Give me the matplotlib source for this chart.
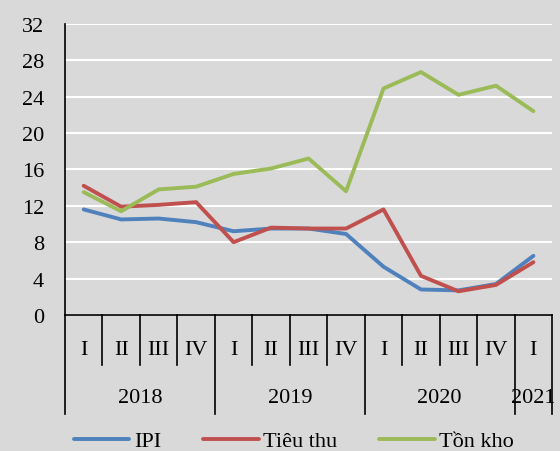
import matplotlib
matplotlib.use("Agg")
from matplotlib import pyplot as plt
from matplotlib.transforms import blended_transform_factory

quarters = ["I", "II", "III", "IV", "I", "II", "III", "IV", "I", "II", "III", "IV", "I"]
years = ["2018", "2019", "2020", "2021"]
yearCenters = [1.5, 5.5, 9.5, 12]
yearEdges = [-0.5, 3.5, 7.5, 11.5, 12.5]

ipi = [11.6, 10.5, 10.6, 10.2, 9.2, 9.5, 9.5, 8.9, 5.3, 2.8, 2.7, 3.4, 6.5]
tieuThu = [14.2, 11.9, 12.1, 12.4, 8.0, 9.6, 9.5, 9.5, 11.6, 4.3, 2.6, 3.3, 5.8]
tonKho = [13.5, 11.4, 13.8, 14.1, 15.5, 16.1, 17.2, 13.6, 24.9, 26.7, 24.2, 25.2, 22.4]

bg = "#d9d9d9"
fs = 16
plt.rcParams["font.family"] = ["Liberation Serif", "DejaVu Serif"]

fig = plt.figure(figsize=(5.6, 4.52), dpi=100, facecolor=bg)
ax = fig.add_axes([0.116, 0.301, 0.870, 0.644], facecolor=bg)

x = list(range(len(quarters)))
ax.plot(x, ipi, color="#4f81bd", lw=2.8, label="IPI", solid_capstyle="round")
ax.plot(x, tieuThu, color="#c0504d", lw=2.8, label="Tiêu thu", solid_capstyle="round")
ax.plot(x, tonKho, color="#9bbb59", lw=2.8, label="Tồn kho", solid_capstyle="round")

ax.set_xlim(-0.5, 12.5)
ax.set_ylim(0, 32)
ax.set_yticks(range(0, 33, 4))
ax.tick_params(axis="y", length=0, pad=15, labelsize=fs)
ax.set_xticks([])
ax.yaxis.grid(True, color="white", lw=1.5)
ax.set_axisbelow(True)
for s in ["top", "right"]:
    ax.spines[s].set_visible(False)
ax.spines["left"].set_visible(False)
ax.spines["bottom"].set_color("black")
ax.spines["bottom"].set_linewidth(1.2)

# multi-level category axis
tr = blended_transform_factory(ax.transData, ax.transAxes)
ax.plot([-0.5, -0.5], [1, 0], color="black", lw=1.2, transform=tr, clip_on=False)
for k in range(len(quarters) + 1):
    e = k - 0.5
    bottom = -0.340 if e in yearEdges else -0.172
    ax.plot([e, e], [0, bottom], color="black", lw=1.2, transform=tr, clip_on=False)
for i, q in enumerate(quarters):
    ax.text(i, -0.117, q, transform=tr, ha="center", va="center", fontsize=fs)
for c, yr in zip(yearCenters, years):
    ax.text(c, -0.282, yr, transform=tr, ha="center", va="center", fontsize=fs)

fig.legend(loc="lower center", bbox_to_anchor=(0.525, -0.045), ncol=3, frameon=False,
           fontsize=fs, handlelength=2.5, handletextpad=0.2, columnspacing=1.9)

fig.savefig("out.png", dpi=100, facecolor=bg)
